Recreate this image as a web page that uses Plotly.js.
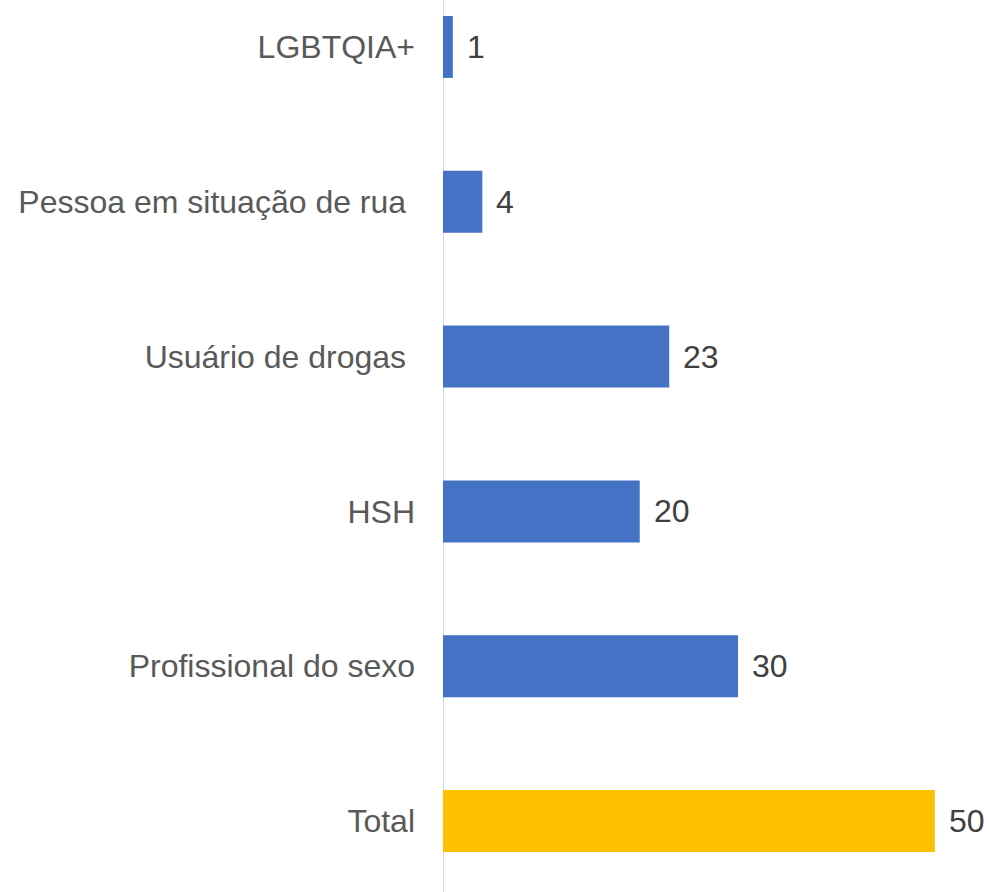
<!DOCTYPE html>
<html>
<head>
<meta charset="utf-8">
<script src="https://cdn.plot.ly/plotly-3.0.1.min.js"></script>
<style>html,body{margin:0;padding:0;background:#fff;}#chart{width:989px;height:892px;}</style>
</head>
<body>
<div id="chart"></div>
<script>
// Categories listed bottom-to-top
const categories = ["Total", "Profissional do sexo", "HSH", "Usuário de drogas\u00a0", "Pessoa em situação de rua\u00a0", "LGBTQIA+"];
const values = [50, 30, 20, 23, 4, 1];
const barColors = ["#FFC000", "#4472C4", "#4472C4", "#4472C4", "#4472C4", "#4472C4"];

const FONT = "'Liberation Sans', Arial, sans-serif";

const trace = {
  type: "bar",
  orientation: "h",
  y: categories,
  x: values,
  marker: {color: barColors},
  hoverinfo: "none",
  cliponaxis: false
};

const annotations = values.map((v, i) => ({
  x: v, y: categories[i], xref: "x", yref: "y",
  text: String(v), showarrow: false, xanchor: "left", xshift: 12,
  font: {family: FONT, size: 32, color: "#404040"}
}));

const layout = {
  width: 989, height: 892,
  margin: {l: 443, r: 5, t: 0, b: 0},
  paper_bgcolor: "#ffffff", plot_bgcolor: "#ffffff",
  showlegend: false,
  bargap: 0.6,
  font: {family: FONT},
  xaxis: {
    range: [0, 55], showgrid: false, showticklabels: false, ticks: "",
    zeroline: true, zerolinecolor: "#d9d9d9", zerolinewidth: 1, fixedrange: true
  },
  yaxis: {
    type: "category", categoryorder: "array", categoryarray: categories,
    range: [-0.458, 5.303], showgrid: false, zeroline: false, showline: false,
    ticks: "", ticklabelstandoff: 27,
    tickfont: {family: FONT, size: 32, color: "#595959"},
    fixedrange: true
  },
  annotations: annotations
};

Plotly.newPlot("chart", [trace], layout, {displayModeBar: false, staticPlot: true});
</script>
</body>
</html>
